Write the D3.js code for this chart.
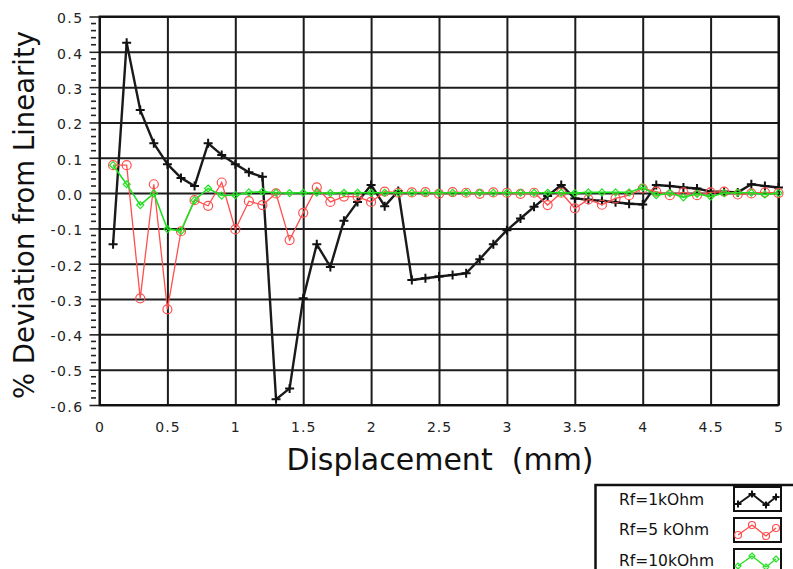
<!DOCTYPE html>
<html>
<head>
  <meta charset="utf-8">
  <title>deviation</title>
  <script src="https://d3js.org/d3.v7.min.js"></script>
  <style>
    body { margin: 0; background: #fff; }
    text { font-family: "DejaVu Sans", Verdana, sans-serif; }
  </style>
</head>
<body>
  <svg width="793" height="569" id="mainsvg"></svg>
  <script>
    // displacement (mm), 0.1 mm steps
    const disp = [0.1, 0.2, 0.3, 0.4, 0.5, 0.6, 0.7, 0.8, 0.9, 1.0,
      1.1, 1.2, 1.3, 1.4, 1.5, 1.6, 1.7, 1.8, 1.9, 2.0,
      2.1, 2.2, 2.3, 2.4, 2.5, 2.6, 2.7, 2.8, 2.9, 3.0,
      3.1, 3.2, 3.3, 3.4, 3.5, 3.6, 3.7, 3.8, 3.9, 4.0,
      4.1, 4.2, 4.3, 4.4, 4.5, 4.6, 4.7, 4.8, 4.9, 5.0];

    const rf1k = [-0.145, 0.426, 0.235, 0.141, 0.082, 0.043, 0.020, 0.141, 0.108, 0.082,
      0.059, 0.046, -0.584, -0.553, -0.298, -0.145, -0.209, -0.078, -0.025, 0.023,
      -0.037, 0.006, -0.246, -0.241, -0.236, -0.232, -0.227, -0.187, -0.145, -0.105,
      -0.072, -0.039, -0.008, 0.023, -0.015, -0.019, -0.022, -0.026, -0.030, -0.032,
      0.023, 0.020, 0.016, 0.013, 0.004, 0.004, 0.002, 0.025, 0.020, 0.016];

    const rf5k = [0.079, 0.079, -0.298, 0.025, -0.329, -0.108, -0.020, -0.036, 0.030, -0.103,
      -0.023, -0.034, -0.001, -0.133, -0.056, 0.016, -0.025, -0.010, -0.010, -0.025,
      0.004, 0.001, 0.002, 0.003, -0.002, 0.003, 0.001, -0.002, 0.002, 0.001,
      -0.002, 0.001, -0.034, 0.001, -0.043, -0.018, -0.033, -0.015, -0.006, 0.013,
      0.004, -0.006, 0.002, -0.006, 0.002, 0.004, -0.004, -0.001, 0.002, 0.000];

    const rf10k = [0.079, 0.025, -0.034, -0.001, -0.102, -0.107, -0.020, 0.013, -0.007, -0.006,
      0.002, 0.004, 0.001, 0.000, 0.001, 0.001, 0.000, 0.001, 0.001, 0.001,
      0.001, 0.001, 0.001, 0.001, 0.001, 0.001, 0.001, 0.001, 0.001, 0.001,
      0.001, 0.001, 0.001, 0.001, 0.000, 0.002, 0.002, 0.002, 0.002, 0.016,
      -0.006, 0.000, -0.012, -0.002, -0.010, 0.000, 0.001, 0.001, -0.004, 0.000];

    const seriesNames = ["Rf=1kOhm", "Rf=5 kOhm", "Rf=10kOhm"];
    const xTicks = [0, 0.5, 1, 1.5, 2, 2.5, 3, 3.5, 4, 4.5, 5];
    const yTicks = [-0.6, -0.5, -0.4, -0.3, -0.2, -0.1, 0.0, 0.1, 0.2, 0.3, 0.4, 0.5];

    let svg = d3.select('#mainsvg');
    const L = 99.5, R = 778.5, T = 16.5, B = 405;

    let x = d3.scaleLinear().domain([0, 5]).range([L, R]);
    let y = d3.scaleLinear().domain([-0.6, 0.5]).range([B, T]);

    // grid lines
    svg.append('g')
      .attr('transform', `translate(0,${B})`)
      .call(d3.axisBottom(x).tickValues(xTicks).tickSize(-(B - T)).tickFormat(''))
      .call(g => g.select('.domain').remove())
      .call(g => g.selectAll('line').attr('stroke', '#1c1c1c').attr('stroke-width', 2));
    svg.append('g')
      .attr('transform', `translate(${L},0)`)
      .call(d3.axisLeft(y).tickValues(yTicks).tickSize(-(R - L)).tickFormat(''))
      .call(g => g.select('.domain').remove())
      .call(g => g.selectAll('line').attr('stroke', '#1c1c1c').attr('stroke-width', 2));

    // minor ticks on y axis
    let minor = d3.range(-0.6, 0.5001, 0.02).filter(v => Math.abs(Math.round(v * 10) - v * 10) > 0.01);
    svg.append('g').selectAll('line').data(minor).enter().append('line')
      .attr('x1', 91).attr('x2', 96)
      .attr('y1', d => y(d)).attr('y2', d => y(d))
      .attr('stroke', '#222').attr('stroke-width', 1.6);

    // y axis labels + major ticks
    svg.append('g')
      .attr('transform', `translate(${L},0)`)
      .call(d3.axisLeft(y).tickValues(yTicks).tickSize(10).tickPadding(6).tickFormat(d => d.toFixed(1)))
      .call(g => g.select('.domain').remove())
      .call(g => g.selectAll('line').attr('stroke', '#222').attr('stroke-width', 1.6))
      .call(g => g.selectAll('text').attr('font-size', 14).attr('letter-spacing', 1.4)
        .attr('fill', '#222').attr('font-family', '"DejaVu Sans", Verdana, sans-serif').attr('dy', '0.45em'));

    // x axis labels
    svg.append('g')
      .attr('transform', `translate(0,${B})`)
      .call(d3.axisBottom(x).tickValues(xTicks).tickSize(0).tickPadding(17).tickFormat(d => d))
      .call(g => g.select('.domain').remove())
      .call(g => g.selectAll('text').attr('font-size', 14).attr('letter-spacing', 1)
        .attr('fill', '#222').attr('font-family', '"DejaVu Sans", Verdana, sans-serif'));

    // plot border
    svg.append('rect')
      .attr('x', L).attr('y', T).attr('width', R - L).attr('height', B - T)
      .attr('fill', 'none').attr('stroke', '#111').attr('stroke-width', 2);

    // titles
    svg.append('text')
      .attr('x', 440).attr('y', 470)
      .attr('text-anchor', 'middle').attr('font-size', 30).attr('fill', '#111')
      .attr('xml:space', 'preserve')
      .text('Displacement  (mm)');
    svg.append('text')
      .attr('transform', 'translate(34,215) rotate(-90)')
      .attr('text-anchor', 'middle').attr('font-size', 27.5).attr('fill', '#111')
      .text('% Deviation from Linearity');

    const line = d3.line().x(d => x(d[0])).y(d => y(d[1]));
    const pts = vals => disp.map((d, i) => [d, vals[i]]);

    // series: black crosses
    let g1 = svg.append('g');
    g1.append('path').attr('d', line(pts(rf1k)))
      .attr('fill', 'none').attr('stroke', '#1a1a1a').attr('stroke-width', 2.4).attr('stroke-linejoin', 'round');
    g1.selectAll('path.mk').data(pts(rf1k)).enter().append('path').attr('class', 'mk')
      .attr('d', d => `M${x(d[0]) - 4.5},${y(d[1])}h9M${x(d[0])},${y(d[1]) - 4.5}v9`)
      .attr('stroke', '#111').attr('stroke-width', 2);

    // red hollow circles
    let g2 = svg.append('g');
    g2.append('path').attr('d', line(pts(rf5k)))
      .attr('fill', 'none').attr('stroke', '#ff4f4f').attr('stroke-width', 1.3);
    g2.selectAll('circle').data(pts(rf5k)).enter().append('circle')
      .attr('cx', d => x(d[0])).attr('cy', d => y(d[1])).attr('r', 4.5)
      .attr('fill', 'none').attr('stroke', '#ff4f4f').attr('stroke-width', 1.2);

    // green diamonds
    let g3 = svg.append('g');
    g3.append('path').attr('d', line(pts(rf10k)))
      .attr('fill', 'none').attr('stroke', '#22e022').attr('stroke-width', 1.6);
    g3.selectAll('path.mk').data(pts(rf10k)).enter().append('path').attr('class', 'mk')
      .attr('d', d => `M${x(d[0])},${y(d[1]) - 3.5}l3.5,3.5l-3.5,3.5l-3.5,-3.5z`)
      .attr('fill', 'none').attr('stroke', '#22e022').attr('stroke-width', 1.2);

    // legend
    let lg = svg.append('g');
    lg.append('rect').attr('x', 595.5).attr('y', 485).attr('width', 220).attr('height', 120)
      .attr('fill', '#fff').attr('stroke', '#111').attr('stroke-width', 2.5);
    const lgY = [505, 535, 566];
    const lgBox = [487, 518, 549];
    const lgColors = ['#1a1a1a', '#ff4f4f', '#22e022'];
    const zig = [[0, 0.7], [0.35, 0.2], [0.7, 0.75], [0.95, 0.35]];
    seriesNames.forEach((name, i) => {
      lg.append('text').attr('x', 619).attr('y', lgY[i]).attr('font-size', 15.5).attr('fill', '#111').text(name);
      lg.append('rect').attr('x', 734).attr('y', lgBox[i]).attr('width', 47).attr('height', 24)
        .attr('fill', '#fff').attr('stroke', '#111').attr('stroke-width', 2);
      let p = zig.map(z => [738 + z[0] * 40, lgBox[i] + 3 + z[1] * 20]);
      lg.append('path').attr('d', d3.line()(p)).attr('fill', 'none')
        .attr('stroke', lgColors[i]).attr('stroke-width', i === 0 ? 2 : 1.3);
      p.forEach(q => {
        if (i === 0) lg.append('path').attr('d', `M${q[0] - 3.5},${q[1]}h7M${q[0]},${q[1] - 3.5}v7`)
          .attr('stroke', '#111').attr('stroke-width', 2);
        else if (i === 1) lg.append('circle').attr('cx', q[0]).attr('cy', q[1]).attr('r', 3.5)
          .attr('fill', 'none').attr('stroke', lgColors[i]).attr('stroke-width', 1.2);
        else lg.append('path').attr('d', `M${q[0]},${q[1] - 3}l3,3l-3,3l-3,-3z`)
          .attr('fill', 'none').attr('stroke', lgColors[i]).attr('stroke-width', 1.2);
      });
    });
  </script>
</body>
</html>
